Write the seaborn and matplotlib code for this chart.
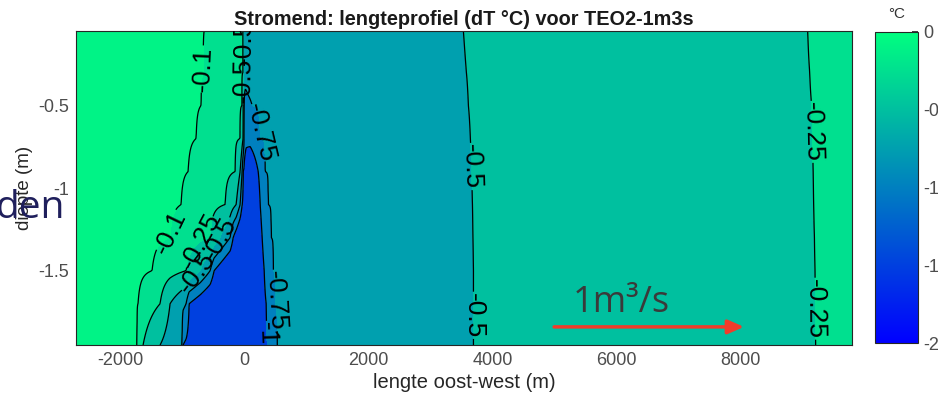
import numpy as np
import matplotlib
matplotlib.use("Agg")
import matplotlib.pyplot as plt
import matplotlib.colors as mcolors
import seaborn as sns

# ---------------- data ----------------
depths = [-0.05, -0.3, -0.5, -0.7, -0.9, -1.1, -1.3, -1.5, -1.7, -1.95]
# x positions (m) of key points per depth row:
# [edge, -0.1 L, -0.25 L, -0.5 L, -0.75 L, -1 L, core, -1 R, -0.75 R, -0.5 R, -0.25 R, edge]
key_x = [
    [-2710, -645, -16, -8, 0, 2, 4, 6, 8, 3533, 9081, 9790],
    [-2710, -661, -16, -8, 0, 2, 4, 6, 8, 3581, 9113, 9790],
    [-2710, -694, -32, -16, 0, 5, 20, 60, 129, 3613, 9145, 9790],
    [-2710, -774, -65, -16, 0, 3, 30, 100, 258, 3645, 9160, 9790],
    [-2710, -903, -145, -65, -32, -16, 97, 226, 339, 3662, 9170, 9790],
    [-2710, -1016, -306, -129, -65, -32, 129, 258, 387, 3678, 9178, 9790],
    [-2710, -1194, -548, -387, -226, -177, 16, 290, 435, 3686, 9190, 9790],
    [-2710, -1484, -936, -710, -548, -484, -65, 323, 468, 3694, 9200, 9790],
    [-2710, -1710, -1355, -1194, -936, -887, -306, 355, 500, 3694, 9205, 9790],
    [-2710, -1726, -1629, -1355, -1000, -984, -306, 371, 532, 3694, 9210, 9790],
]
# dT values (degC) at those key points
key_v = [
    [-0.02, -0.1, -0.25, -0.5, -0.6, -0.6, -0.6, -0.6, -0.6, -0.5, -0.25, -0.2],
    [-0.02, -0.1, -0.25, -0.5, -0.65, -0.65, -0.65, -0.65, -0.65, -0.5, -0.25, -0.2],
    [-0.02, -0.1, -0.25, -0.5, -0.75, -0.8, -0.85, -0.8, -0.75, -0.5, -0.25, -0.2],
    [-0.02, -0.1, -0.25, -0.5, -0.75, -0.9, -0.95, -0.9, -0.75, -0.5, -0.25, -0.2],
    [-0.02, -0.1, -0.25, -0.5, -0.75, -1.0, -1.3, -1.0, -0.75, -0.5, -0.25, -0.2],
    [-0.02, -0.1, -0.25, -0.5, -0.75, -1.0, -1.5, -1.0, -0.75, -0.5, -0.25, -0.2],
    [-0.02, -0.1, -0.25, -0.5, -0.75, -1.0, -1.6, -1.0, -0.75, -0.5, -0.25, -0.2],
    [-0.02, -0.1, -0.25, -0.5, -0.75, -1.0, -1.6, -1.0, -0.75, -0.5, -0.25, -0.2],
    [-0.02, -0.1, -0.25, -0.5, -0.75, -1.0, -1.6, -1.0, -0.75, -0.5, -0.25, -0.2],
    [-0.02, -0.1, -0.25, -0.5, -0.75, -1.0, -1.6, -1.0, -0.75, -0.5, -0.25, -0.2],
]
contour_levels = [-1.0, -0.75, -0.5, -0.25, -0.1]
fill_bounds = [-2.0, -1.0, -0.75, -0.5, -0.25, -0.1, 0.1]
fill_values = [-1.5, -1.0, -0.75, -0.5, -0.25, -0.1]   # colour value of each band
cbar_ticks = [0, -0.5, -1, -1.5, -2]
x_ticks = [-2000, 0, 2000, 4000, 6000, 8000]
y_ticks = [-1.5, -1, -0.5]

# ---------------- style ----------------
sns.set_theme(style="ticks")
plt.rcParams["font.family"] = ["Liberation Sans", "DejaVu Sans"]
plt.rcParams["axes.unicode_minus"] = False

# ---------------- build field ----------------
xg = np.linspace(-2710, 9790, 1600)
dg = np.linspace(-1.95, -0.05, 260)
rows = np.array([np.interp(xg, kx, kv) for kx, kv in zip(key_x, key_v)])
dep = np.array(depths)[::-1]
rows = rows[::-1]
Z = np.empty((len(dg), len(xg)))
for j in range(len(xg)):
    Z[:, j] = np.interp(dg, dep, rows[:, j])

cmap = plt.get_cmap("winter")
norm = mcolors.Normalize(vmin=-2, vmax=0)
band_colors = [cmap(norm(v)) for v in fill_values]

fig = plt.figure(figsize=(9.38, 3.98), dpi=100)
ax = fig.add_axes([0.081, 0.133, 0.827, 0.789])
ax.contourf(xg, dg, Z, levels=fill_bounds, colors=band_colors)
cs = ax.contour(xg, dg, Z, levels=contour_levels, colors="black",
                linewidths=0.9, linestyles="solid")

label_pos = [(-629, -0.28), (-1161, -1.27), (-700, -1.32), (-420, -1.30),
             (-742, -1.52), (390, -0.66), (460, -1.68), (400, -1.88),
             (-5, -0.12), (0, -0.35), (3625, -0.87), (3694, -1.77),
             (9150, -0.66), (9205, -1.73)]
ax.clabel(cs, fmt=lambda v: f"{v:g}", fontsize=19, inline=True,
          inline_spacing=1, manual=label_pos)

ax.set_xlim(-2710, 9790)
ax.set_ylim(-1.95, -0.05)
ax.set_xticks(x_ticks)
ax.set_xticklabels([f"{t:g}" for t in x_ticks])
ax.set_yticks(y_ticks)
ax.set_yticklabels([f"{t:g}" for t in y_ticks])
ax.tick_params(direction="in", top=True, right=True, length=6, width=0.8,
               labelsize=13, colors="#262626", labelcolor="#4d4d4d", pad=5)
for s in ax.spines.values():
    s.set_color("#262626")
    s.set_linewidth(0.8)
ax.set_xlabel("lengte oost-west (m)", fontsize=14.5, color="#262626", labelpad=3)
ax.set_ylabel("diepte (m)", fontsize=13.5, color="#262626", labelpad=4)
ax.set_title("Stromend: lengteprofiel (dT °C) voor TEO2-1m3s", fontsize=14.3,
             fontweight="bold", color="#1a1a1a", pad=4)

# flow annotation
ax.annotate("", xy=(8100, -1.84), xytext=(4950, -1.84),
            arrowprops=dict(arrowstyle="-|>,head_length=0.8,head_width=0.35",
                            color="#f03c2a", lw=2.5))
ax.text(5290, -1.75, "1m³/s", fontsize=26, color="#3a3a3a",
        family=["Open Sans", "DejaVu Sans"], ha="left", va="baseline")

# colourbar
cax = fig.add_axes([0.933, 0.138, 0.046, 0.782])
sm = matplotlib.cm.ScalarMappable(norm=norm, cmap=cmap)
cb = fig.colorbar(sm, cax=cax)
cb.set_ticks(cbar_ticks)
cb.set_ticklabels([f"{t:g}" for t in cbar_ticks])
cb.ax.tick_params(direction="in", length=4, labelsize=13, labelcolor="#4d4d4d")
cb.outline.set_edgecolor("#262626")
cb.outline.set_linewidth(0.8)
fig.text(0.956, 0.948, "°C", fontsize=11, ha="center", va="bottom", color="#333333")

# overlapping slide text
fig.text(-0.004, 0.452, "den", fontsize=28, color="#1f1f5c",
         family=["Open Sans", "DejaVu Sans"], ha="left", va="baseline")

fig.savefig("out.png", dpi=100)
